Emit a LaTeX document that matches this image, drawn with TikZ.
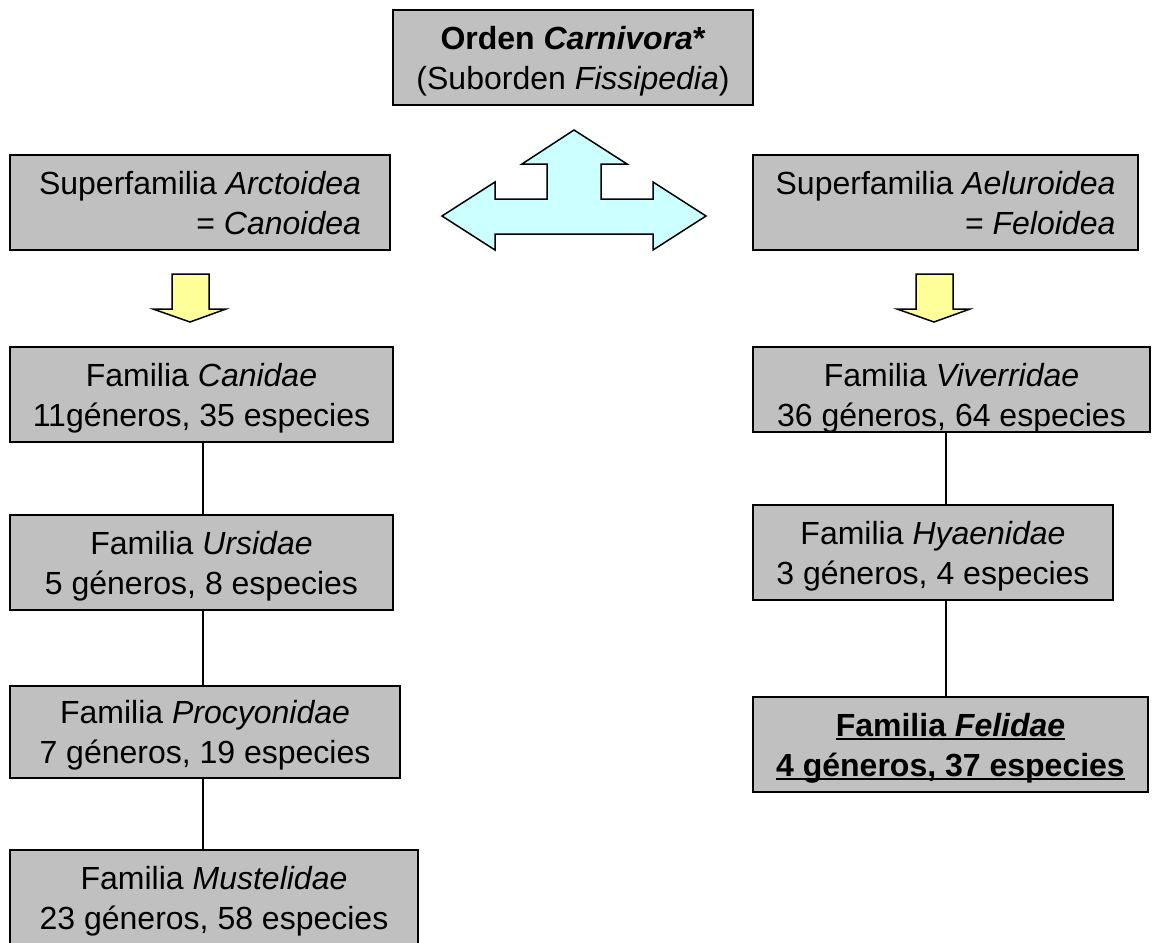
\documentclass[tikz,border=0pt]{standalone}
\usepackage{fontspec}
\setmainfont{Liberation Sans}
\usepackage{xcolor}
\usepackage{tikz}
\usetikzlibrary{positioning,calc}
\definecolor{TaxonGray}{HTML}{C0C0C0}
\definecolor{TaxonCyan}{HTML}{CCFFFF}
\definecolor{TaxonYellow}{HTML}{FFFF99}
\newcommand\wordul[1]{\setbox0\hbox{#1}\rlap{\rule[-4pt]{\wd0}{2.2pt}}\box0}

\begin{document}
\begin{tikzpicture}[
  x=1pt,y=-1pt,
  txt/.style={inner sep=0pt,align=center,text height=70pt,text depth=7pt,font=\fontsize{32}{40}\selectfont},
  box/.style={txt,draw=black,fill=TaxonGray,line width=1.5pt},
  link/.style={draw=black,line width=1.2pt},
  fatarrow/.style={draw=black,line width=1.5pt,line join=miter}
]
\useasboundingbox (0,0) rectangle (1152,943);
\node[box,minimum width=360pt,minimum height=95pt] (orden) at (573,57.5)
  {\textbf{Orden \textit{Carnivora}*}\\(Suborden \textit{Fissipedia})};
\node[box,minimum width=380pt,minimum height=95pt,align=right] (arctoidea) at (200,202.5)
  {Superfamilia \textit{Arctoidea}\\= \textit{Canoidea}};
\node[box,minimum width=385pt,minimum height=95pt,align=right] (aeluroidea) at (945.5,202.5)
  {Superfamilia \textit{Aeluroidea}\\= \textit{Feloidea}};
\node[box,minimum width=383pt,minimum height=95pt] (canidae) at (201.5,394.5)
  {Familia \textit{Canidae}\\11géneros, 35 especies};
\node[box,minimum width=383pt,minimum height=95pt] (ursidae) at (201.5,562.5)
  {Familia \textit{Ursidae}\\5 géneros, 8 especies};
\node[box,minimum width=390pt,minimum height=92pt] (procyonidae) at (205,732)
  {Familia \textit{Procyonidae}\\7 géneros, 19 especies};
\node[box,minimum width=408pt,minimum height=95pt] (mustelidae) at (214,897.5)
  {Familia \textit{Mustelidae}\\23 géneros, 58 especies};
\node[box,minimum width=397pt,minimum height=85pt,text height=0pt,text depth=0pt] (viverridae) at (951.5,389.5) {};
\begin{scope}
  \clip ([shift={(1pt,-1pt)}]viverridae.north west) rectangle ([shift={(-1pt,1pt)}]viverridae.south east);
  \node[txt] (viverridaetext) at (951.5,394.5) {Familia \textit{Viverridae}\\36 géneros, 64 especies};
\end{scope}
\node[box,minimum width=360pt,minimum height=95pt] (hyaenidae) at (933,552.5)
  {Familia \textit{Hyaenidae}\\3 géneros, 4 especies};
\node[box,minimum width=395pt,minimum height=95pt] (felidae) at (950.5,744.5)
  {\textbf{\wordul{Familia \textit{Felidae}}}\\\textbf{\wordul{4 géneros, 37 especies}}};

\coordinate (leftspine) at (203,0);
\coordinate (rightspine) at (946,0);
\draw[link] (canidae.south -| leftspine) -- (ursidae.north -| leftspine);
\draw[link] (ursidae.south -| leftspine) -- (procyonidae.north -| leftspine);
\draw[link] (procyonidae.south -| leftspine) -- (mustelidae.north -| leftspine);
\draw[link] (viverridae.south -| rightspine) -- (hyaenidae.north -| rightspine);
\draw[link] (hyaenidae.south -| rightspine) -- (felidae.north -| rightspine);

\draw[fatarrow,fill=TaxonCyan] (574,130) -- (627,164) -- (601,164) -- (601,199) -- (653,199)
  -- (653,182) -- (706,216) -- (653,250) -- (653,234) -- (495,234) -- (495,250)
  -- (442,216) -- (495,182) -- (495,199) -- (547,199) -- (547,164) -- (522,164) -- cycle;
\foreach \ax in {190,934}
  \draw[fatarrow,fill=TaxonYellow] (\ax-18,274) -- (\ax+19,274) -- (\ax+19,309) -- (\ax+36,309)
    -- (\ax,322) -- (\ax-37,309) -- (\ax-18,309) -- cycle;
\end{tikzpicture}
\end{document}
